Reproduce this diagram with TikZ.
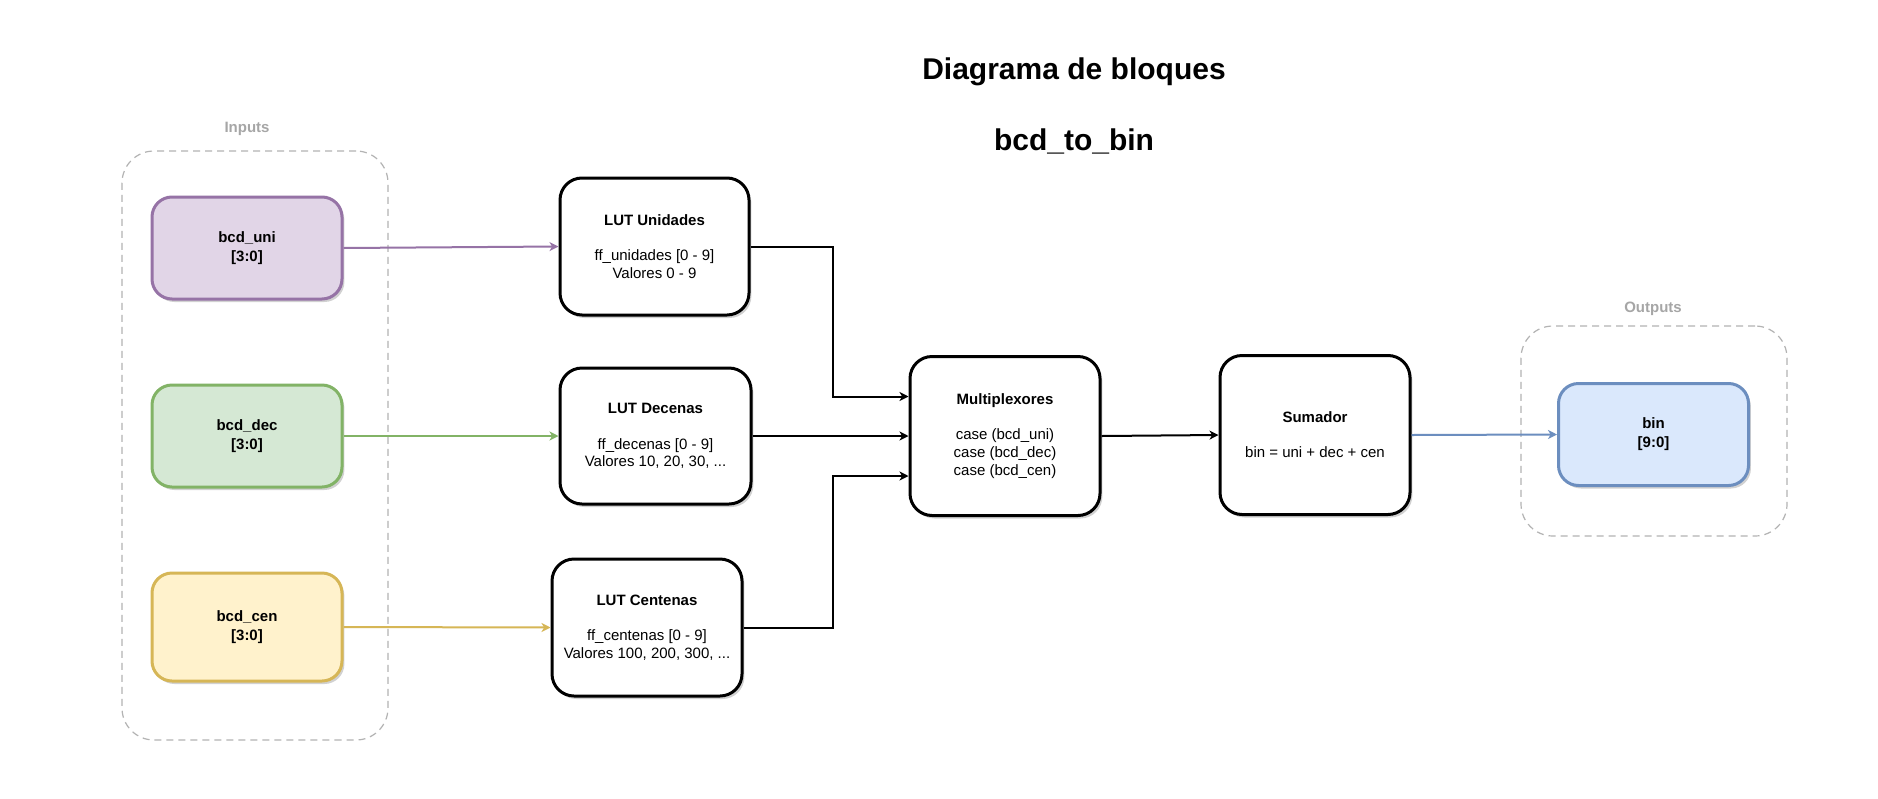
\documentclass[tikz,border=0pt]{standalone}
\usepackage{fontspec}
\setmainfont{Liberation Sans}
\usetikzlibrary{arrows.meta,shadows,calc}
\definecolor{purpF}{HTML}{E1D5E7}\definecolor{purpS}{HTML}{9673A6}
\definecolor{greenF}{HTML}{D5E8D4}\definecolor{greenS}{HTML}{82B366}
\definecolor{yellF}{HTML}{FFF2CC}\definecolor{yellS}{HTML}{D6B656}
\definecolor{blueF}{HTML}{DAE8FC}\definecolor{blueS}{HTML}{6C8EBF}
\definecolor{contS}{HTML}{B3B3B3}\definecolor{contT}{HTML}{A6A6A6}
\begin{document}
\begin{tikzpicture}[x=0.5pt,y=-0.5pt,
  shad/.style={drop shadow={shadow xshift=1.2pt,shadow yshift=-1.5pt,opacity=0.18,fill=black}},
  iobox/.style={shad,draw=#1S,fill=#1F,line width=1.5pt,rounded corners=10pt,
    minimum width=95pt,minimum height=51pt,align=center,
    font=\fontsize{7.5}{9.5}\selectfont\bfseries,inner sep=0pt},
  blk/.style={shad,draw=black,fill=white,line width=1.5pt,rounded corners=11pt,
    align=center,font=\fontsize{7.5}{8.8}\selectfont,inner sep=0pt},
  cont/.style={draw=contS,dash pattern=on 3.5pt off 2.5pt,line width=0.6pt,rounded corners=16pt,
    minimum width=133pt,inner sep=0pt},
  conttitle/.style={text=contT,font=\fontsize{7.5}{9}\selectfont\bfseries},
  titletext/.style={font=\fontsize{15}{18}\selectfont\bfseries},
  arr/.style={line width=1pt,-{Stealth[length=4.5pt,width=4.5pt,inset=1.3pt]}},
]
\useasboundingbox (0,0) rectangle (1878,798);
\fill[white] (0,0) rectangle (1878,798);

% titles
\node[titletext] (t1) at (1074,71.5) {Diagrama de bloques};
\node[titletext] (t2) at (1074,141.5) {bcd\_to\_bin};

% containers
\node[cont,minimum height=294.5pt] (inputs) at (255,445.5) {};
\node[conttitle] (inlab) at (247,128.5) {Inputs};
\node[cont,minimum height=105pt] (outputs) at (1654,431) {};
\node[conttitle] (outlab) at (1653,308.5) {Outputs};

% input boxes
\node[iobox=purp] (uni) at (247,248) {bcd\_uni\\{[3:0]}};
\node[iobox=green] (dec) at (247,436) {bcd\_dec\\{[3:0]}};
\node[iobox=yell,minimum height=54pt] (cen) at (247,627) {bcd\_cen\\{[3:0]}};

% LUTs
\node[blk,minimum width=94.5pt,minimum height=68.5pt] (lutu) at (654.5,246.5)
  {\textbf{LUT Unidades}\\[8.8pt]ff\_unidades [0 - 9]\\Valores 0 - 9};
\node[blk,minimum width=95.5pt,minimum height=68pt] (lutd) at (655.5,436)
  {\textbf{LUT Decenas}\\[8.8pt]ff\_decenas [0 - 9]\\Valores 10, 20, 30, ...};
\node[blk,minimum width=95pt,minimum height=68.5pt] (lutc) at (647,627.5)
  {\textbf{LUT Centenas}\\[8.8pt]ff\_centenas [0 - 9]\\Valores 100, 200, 300, ...};

% mux & adder
\node[blk,minimum width=95pt,minimum height=79.5pt] (mux) at (1005,436)
  {\textbf{Multiplexores}\\[8.8pt]case (bcd\_uni)\\case (bcd\_dec)\\case (bcd\_cen)};
\node[blk,minimum width=95pt,minimum height=79.5pt] (sum) at (1315,435)
  {\textbf{Sumador}\\[8.8pt]bin = uni + dec + cen};

% output
\node[iobox=blue] (bin) at (1653.5,434.5) {bin\\{[9:0]}};

% connectors
\draw[arr,purpS] (uni.east) -- (lutu.west);
\draw[arr,greenS] (dec.east) -- (lutd.west);
\draw[arr,yellS] (cen.east) -- (lutc.west);
\draw[arr] (lutu.east) -- ++(82,0) |- ($(mux.west)+(0,-39.5)$);
\draw[arr] (lutd.east) -- (mux.west);
\draw[arr] (lutc.east) -- ++(89,0) |- ($(mux.west)+(0,40)$);
\draw[arr] (mux.east) -- (sum.west);
\draw[arr,blueS] (sum.east) -- (bin.west);
\end{tikzpicture}
\end{document}
